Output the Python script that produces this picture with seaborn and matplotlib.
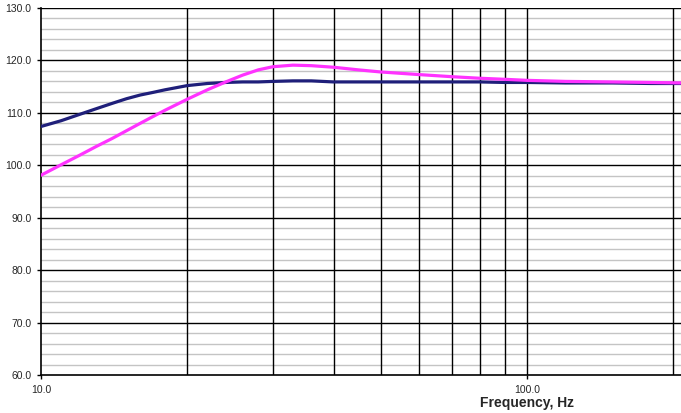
import numpy as np
import pandas as pd
import matplotlib
matplotlib.use("Agg")
import matplotlib.pyplot as plt
import seaborn as sns
from matplotlib.ticker import FixedLocator, NullFormatter, FuncFormatter

freq = [10, 11, 12, 13, 14, 15, 16, 17, 18, 20, 22, 24, 26, 28, 30, 33, 36, 40, 45, 50,
        60, 70, 80, 90, 100, 120, 150, 180, 210]
navy = [107.4, 108.5, 109.7, 110.8, 111.8, 112.7, 113.4, 113.9, 114.4, 115.2, 115.6, 115.8,
        115.9, 115.9, 116.0, 116.1, 116.1, 115.9, 115.9, 115.9, 115.9, 115.9, 115.9, 115.8,
        115.8, 115.7, 115.7, 115.6, 115.6]
magenta = [98.1, 100.1, 101.9, 103.6, 105.1, 106.6, 108.0, 109.3, 110.5, 112.6, 114.4, 115.9,
           117.2, 118.2, 118.8, 119.1, 119.0, 118.7, 118.2, 117.8, 117.3, 116.9, 116.6, 116.4,
           116.2, 116.0, 115.9, 115.8, 115.7]

df = pd.DataFrame({"freq": freq * 2,
                   "spl": navy + magenta,
                   "series": ["A"] * len(freq) + ["B"] * len(freq)})

sns.set_style("white")
plt.rcParams["font.family"] = ["Liberation Sans", "DejaVu Sans"]

fig = plt.figure(figsize=(6.81, 4.13), dpi=100)
ax = fig.add_axes([41 / 681, 1 - 375 / 413, 1 - 41 / 681, (375 - 8) / 413])

ax.set_xscale("log")
ax.set_xlim(10, 207.5)
ax.set_ylim(60, 130)

# grid
for y in np.arange(60, 131, 2):
    if y % 10 == 0:
        continue
    ax.axhline(y, color="#c4c4c4", lw=1.0, zorder=1)
for y in np.arange(70, 131, 10):
    ax.axhline(y, color="black", lw=1.0, zorder=1)
for x in [20, 30, 40, 50, 60, 70, 80, 90, 100, 200]:
    ax.axvline(x, color="black", lw=1.0, zorder=1)

sns.lineplot(data=df, x="freq", y="spl", hue="series",
             palette={"A": "#1f1f7a", "B": "#ff33ff"},
             linewidth=2.3, legend=False, ax=ax, zorder=3)

ax.xaxis.set_major_locator(FixedLocator([10, 100]))
ax.xaxis.set_minor_locator(FixedLocator([]))
ax.xaxis.set_major_formatter(FuncFormatter(lambda v, p: f"{v:.1f}"))
ax.xaxis.set_minor_formatter(NullFormatter())
ax.set_yticks(np.arange(60, 131, 10))
ax.yaxis.set_major_formatter(FuncFormatter(lambda v, p: f"{v:.1f}"))

ax.tick_params(axis="both", which="major", labelsize=7.5, length=3, width=1,
               color="black", direction="out", pad=4, left=True, bottom=True)
for s in ["top", "right"]:
    ax.spines[s].set_visible(False)
for s in ["left", "bottom"]:
    ax.spines[s].set_color("black")
    ax.spines[s].set_linewidth(1.2)

ax.set_ylabel("")
ax.set_xlabel("")
fig.text(527 / 681, 1 - 403 / 413, "Frequency, Hz", ha="center", va="center",
         fontsize=10, fontweight="bold")

fig.savefig("out.png", dpi=100)
